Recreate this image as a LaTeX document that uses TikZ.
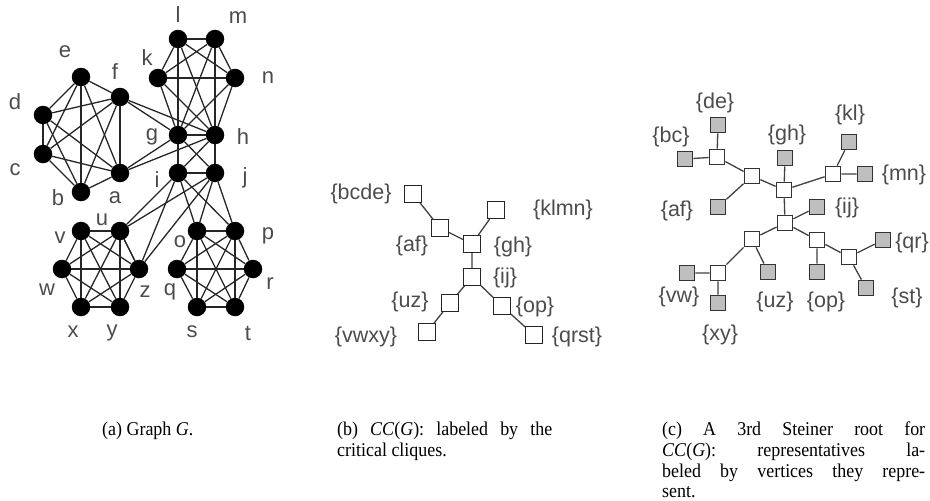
\documentclass[tikz,border=0pt]{standalone}
\usepackage{fontspec}
\setmainfont{Liberation Serif}
\setsansfont{Liberation Sans}
\newfontfamily\capfont[FakeStretch=0.92]{Liberation Serif}
\usetikzlibrary{backgrounds}
\newcommand\drawclique[1]{\foreach \p [count=\i] in {#1}{\foreach \q [count=\j] in {#1}{\ifnum\i<\j \draw[edge] (\p)--(\q);\fi}}}
\begin{document}
\begin{tikzpicture}[x=1pt,y=-1pt,
 dot/.style={circle,fill=black,minimum size=18.5pt,inner sep=0pt},
 edge/.style={line width=1.3pt,black!85},
 lbl/.style={font=\sffamily\fontsize{22}{25}\selectfont,text=black!70,inner sep=0pt},
 cbox/.style={draw=black!85,line width=1.4pt,fill=white,minimum size=16.5pt,inner sep=0pt},
 wbox/.style={draw=black!80,line width=1.3pt,fill=white,minimum size=15.5pt,inner sep=0pt},
 gbox/.style={draw=black!80,line width=1.3pt,fill=black!25,minimum size=15.5pt,inner sep=0pt},
 tlink/.style={line width=1.3pt,black!75},
 blbl/.style={font=\sffamily\fontsize{21.5}{24}\selectfont,text=black!70,inner sep=0pt},
 captxt/.style={font=\capfont\fontsize{19.5}{21}\selectfont,inner sep=0pt,anchor=base west}
]
\useasboundingbox (0,0) rectangle (930,501);
% ---------- panel (a)
\foreach \n/\x/\y in {a/120/173, b/81/192, c/43/154, d/43/115, e/81/77, f/120/97,
  g/178/135, h/215/135, k/158/78, l/178/39, m/215/39, n/235/78, i/178/173, j/215/173,
  u/120/231, v/81/231, w/62/269, z/139/269, x/81/307, y/120/307,
  o/197/231, p/235/231, q/177/269, r/253/269, s/197/307, t/235/307}
  \node[dot] (\n) at (\x,\y) {};
\begin{pgfonlayer}{background}
\drawclique{a,b,c,d,e,f}
\drawclique{a,f,g,h}
\drawclique{g,h,k,l,m,n}
\drawclique{g,h,i,j}
\drawclique{i,j,u,z}
\drawclique{u,z,v,w,x,y}
\drawclique{i,j,o,p}
\drawclique{o,p,q,r,s,t}
\end{pgfonlayer}
\foreach \n/\x/\y in {l/178/15, m/238/18, k/147/58, n/268/78, e/65/52, f/115/72,
  d/15/102, c/15/170, g/152/137, h/243/137, b/58/198, a/115/198, i/157/180, j/245/178,
  u/102/220, v/60/238, w/47/290, z/145/292, q/170/292, o/180/242, p/268/236, r/270/284,
  x/73/332, y/112/333, s/192/332, t/248/333}
  \node[lbl] (lab\n) at (\x,\y) {\n};
% ---------- panel (b)
\node[cbox] (bcde) at (413,194) {};
\node[cbox] (af) at (440,228) {};
\node[cbox] (gh) at (472,244) {};
\node[cbox] (klmn) at (496,210) {};
\node[cbox] (ij) at (472,277) {};
\node[cbox] (uz) at (450,303) {};
\node[cbox] (vwxy) at (427,332) {};
\node[cbox] (op) at (502,306) {};
\node[cbox] (qrst) at (534,335) {};
\begin{pgfonlayer}{background}
\draw[tlink] (bcde)--(af) (af)--(gh) (gh)--(klmn) (gh)--(ij) (ij)--(uz) (uz)--(vwxy) (ij)--(op) (op)--(qrst);
\end{pgfonlayer}
\node[blbl] (Lbcde) at (361,194) {\{bcde\}};
\node[blbl] (Laf) at (412,246) {\{af\}};
\node[blbl] (Lgh) at (513,247) {\{gh\}};
\node[blbl] (Lklmn) at (563,210) {\{klmn\}};
\node[blbl] (Lij) at (505,278) {\{ij\}};
\node[blbl] (Lop) at (535,307) {\{op\}};
\node[blbl] (Lqrst) at (577,337) {\{qrst\}};
\node[blbl] (Luz) at (410,302) {\{uz\}};
\node[blbl] (Lvwxy) at (366,337) {\{vwxy\}};
% ---------- panel (c)
\node[wbox] (Sbcde) at (717,157) {};
\node[wbox] (Saf) at (752,176) {};
\node[wbox] (Sgh) at (784,190) {};
\node[wbox] (Sklmn) at (833,174) {};
\node[wbox] (Sij) at (785,223) {};
\node[wbox] (Suz) at (752,239) {};
\node[wbox] (Svwxy) at (718,273) {};
\node[wbox] (Sop) at (817,240) {};
\node[wbox] (Sqrst) at (849,257) {};
\node[gbox] (Gde) at (718,125) {};
\node[gbox] (Gbc) at (685,159) {};
\node[gbox] (Gaf) at (718,207) {};
\node[gbox] (Ggh) at (785,158) {};
\node[gbox] (Gkl) at (849,142) {};
\node[gbox] (Gmn) at (865,174) {};
\node[gbox] (Gij) at (817,207) {};
\node[gbox] (Guz) at (768,272) {};
\node[gbox] (Gvw) at (687,273) {};
\node[gbox] (Gxy) at (718,303) {};
\node[gbox] (Gop) at (817,272) {};
\node[gbox] (Gqr) at (883,240) {};
\node[gbox] (Gst) at (866,288) {};
\begin{pgfonlayer}{background}
\draw[tlink] (Gbc)--(Sbcde) (Gde)--(Sbcde) (Sbcde)--(Saf) (Gaf)--(Saf) (Saf)--(Sgh)
  (Ggh)--(Sgh) (Sgh)--(Sklmn) (Sklmn)--(Gkl) (Sklmn)--(Gmn) (Sgh)--(Sij) (Sij)--(Gij)
  (Sij)--(Suz) (Suz)--(Guz) (Suz)--(Svwxy) (Svwxy)--(Gvw) (Svwxy)--(Gxy)
  (Sij)--(Sop) (Sop)--(Gop) (Sop)--(Sqrst) (Sqrst)--(Gqr) (Sqrst)--(Gst);
\end{pgfonlayer}
\node[blbl] (Cde) at (715,103) {\{de\}};
\node[blbl] (Cbc) at (671,137) {\{bc\}};
\node[blbl] (Caf) at (677,211) {\{af\}};
\node[blbl] (Cgh) at (787,135) {\{gh\}};
\node[blbl] (Ckl) at (850,115) {\{kl\}};
\node[blbl] (Cmn) at (904,175) {\{mn\}};
\node[blbl] (Cij) at (847,208) {\{ij\}};
\node[blbl] (Cqr) at (912,243) {\{qr\}};
\node[blbl] (Cop) at (826,302) {\{op\}};
\node[blbl] (Cuz) at (775,302) {\{uz\}};
\node[blbl] (Cst) at (907,298) {\{st\}};
\node[blbl] (Cvw) at (679,297) {\{vw\}};
\node[blbl] (Cxy) at (720,335) {\{xy\}};
% ---------- captions
\node[captxt] (capa) at (102,435) {(a) Graph \textit{G}.};
\node[captxt] (capb1) at (337,435) {\makebox[215pt][s]{(b) \textit{CC}(\textit{G}):  labeled by the}};
\node[captxt] (capb2) at (337,456) {critical cliques.};
\node[captxt] (capc1) at (662,435) {\makebox[263pt][s]{(c) A 3rd Steiner root for}};
\node[captxt] (capc2) at (662,456) {\makebox[263pt][s]{\textit{CC}(\textit{G}):  representatives la-}};
\node[captxt] (capc3) at (662,477) {\makebox[263pt][s]{beled by vertices they repre-}};
\node[captxt] (capc4) at (662,497) {sent.};
\end{tikzpicture}
\end{document}
